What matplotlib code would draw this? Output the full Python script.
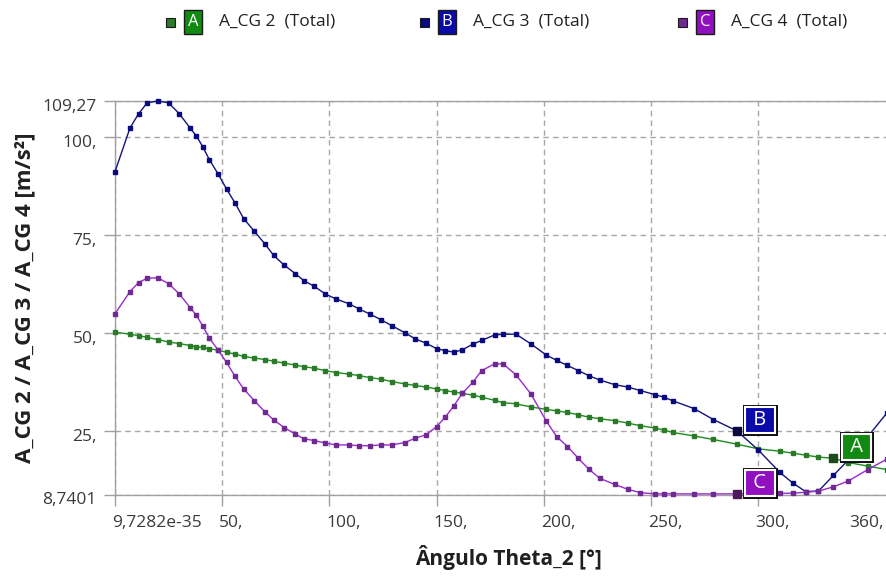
import matplotlib.pyplot as plt
import matplotlib.transforms as mtransforms
from matplotlib.patches import Rectangle

# angle samples (deg) and accelerations (m/s^2)
theta = [0, 7, 11, 15, 20, 25, 30, 35, 38, 41, 44, 48, 52, 56, 60, 65, 70, 74,
         79, 84, 88, 93, 98, 103, 109, 114, 119, 124, 129, 135, 140, 145, 150,
         154, 158, 162, 167, 171, 177, 181, 187, 194, 201, 206, 211, 216, 221,
         226, 233, 239, 245, 252, 256, 260, 270, 279, 290, 300, 310, 316, 322,
         328, 335, 342, 351, 360]
a_cg2 = [50.2, 49.7, 49.3, 48.9, 48.3, 47.7, 47.3, 46.8, 46.5, 46.3, 46.0, 45.6,
         45.1, 44.6, 44.0, 43.6, 43.2, 42.8, 42.3, 41.8, 41.4, 41.0, 40.4, 39.9,
         39.5, 39.1, 38.6, 38.2, 37.6, 37.0, 36.6, 36.2, 35.7, 35.3, 34.9, 34.6,
         34.1, 33.6, 32.8, 32.2, 31.9, 31.1, 30.5, 30.1, 29.7, 29.1, 28.5, 28.1,
         27.6, 27.0, 26.3, 25.7, 25.2, 24.6, 23.7, 22.8, 21.6, 20.4, 19.8, 19.3,
         18.8, 18.3, 18.0, 16.9, 16.0, 15.1]
a_cg3 = [91.2, 102.4, 106.0, 108.8, 109.27, 108.8, 106.0, 102.4, 100.3, 97.5,
         94.3, 90.7, 86.8, 83.2, 79.2, 76.0, 72.7, 69.8, 67.3, 65.2, 63.4, 61.9,
         60.0, 58.7, 57.5, 56.1, 54.8, 53.4, 51.9, 50.1, 48.5, 47.4, 46.0, 45.5,
         45.1, 45.7, 47.2, 48.1, 49.5, 49.7, 49.7, 47.2, 44.4, 43.0, 41.7, 40.4,
         39.1, 38.0, 36.8, 36.2, 35.3, 34.2, 33.6, 32.7, 30.7, 27.9, 25.0, 20.1,
         14.4, 11.7, 9.5, 9.6, 13.6, 17.6, 23.5, 29.6]
a_cg4 = [54.9, 60.6, 62.9, 64.0, 64.1, 62.6, 60.0, 56.5, 54.5, 51.7, 48.7, 45.7,
         42.5, 38.9, 35.7, 32.7, 29.8, 27.8, 25.8, 24.2, 23.0, 22.5, 21.9, 21.4,
         21.4, 21.2, 21.2, 21.4, 21.4, 22.0, 23.1, 24.0, 26.1, 28.5, 31.4, 34.6,
         37.5, 40.4, 42.1, 42.1, 39.3, 34.4, 27.6, 23.5, 21.0, 18.0, 15.2, 12.9,
         11.3, 10.1, 9.2, 8.9, 8.9, 8.9, 8.9, 8.9, 8.9, 9.0, 9.0, 9.1, 9.3, 9.6,
         10.7, 12.2, 15.1, 17.8]

series_names = ['A_CG 2  (Total)', 'A_CG 3  (Total)', 'A_CG 4  (Total)']
series_letters = ['A', 'B', 'C']
label_theta = [335, 290, 290]

xticks = [0, 50, 100, 150, 200, 250, 300, 360]
xtick_labels = ['9,7282e-35', '50,', '100,', '150,', '200,', '250,', '300,', '360,']
yticks = [8.7401, 25, 50, 75, 100, 109.27]
ytick_labels = ['8,7401', '25,', '50,', '75,', '100,', '109,27']

line_colors = ['#1e8c1e', '#14147a', '#9a2ad0']
marker_colors = ['#2a7a2a', '#0a0a80', '#6e2a90']
box_colors = ['#118a11', '#0a0aa8', '#9010c0']
anchor_colors = ['#1c4a1c', '#0a0a40', '#4a1a5a']

plt.rcParams['font.family'] = ['Open Sans', 'DejaVu Sans']

W, H = 887, 576
fig = plt.figure(figsize=(W / 100, H / 100), dpi=100)
ax = fig.add_axes([115 / W, 81.5 / H, 772 / W, 393.5 / H])

all_series = [a_cg2, a_cg3, a_cg4]
for ys, lc, mc in zip(all_series, line_colors, marker_colors):
    ax.plot(theta, ys, color=lc, lw=1.0, marker='s', ms=3.2,
            mfc=mc, mec=mc, zorder=3, clip_on=False)

ax.set_xlim(0, 360)
ax.set_ylim(yticks[0], yticks[-1])

ax.set_xticks(xticks)
ax.set_xticklabels(xtick_labels)
ax.set_yticks(yticks)
ax.set_yticklabels(ytick_labels)

grid_c = '#a8a8a8'
ax.set_axisbelow(True)
ax.grid(True, color=grid_c, linestyle=(0, (4, 3)), lw=1)
for side in ['left', 'bottom', 'top']:
    ax.spines[side].set_color('#a0a0a0')
    ax.spines[side].set_linewidth(1)
ax.spines['right'].set_visible(False)

ax.tick_params(direction='out', length=8, width=1, color='#a0a0a0',
               labelcolor='#3a3a3a', labelsize=12.5)
ax.tick_params(axis='x', pad=7)
ax.tick_params(axis='y', pad=5)

# x tick labels sit to the right of their tick
dx = mtransforms.ScaledTranslation(-3 / 100, 0, fig.dpi_scale_trans)
for lab in ax.get_xticklabels():
    lab.set_horizontalalignment('left')
    lab.set_transform(lab.get_transform() + dx)
ax.get_xticklabels()[-1].set_horizontalalignment('right')

dy = mtransforms.ScaledTranslation(0, -4 / 100, fig.dpi_scale_trans)
for lab in ax.get_yticklabels():
    lab.set_transform(lab.get_transform() + dy)

ax.set_ylabel('A_CG 2 / A_CG 3 / A_CG 4 [m/s²]', fontsize=16,
              fontweight='bold', color='#202020')
ax.yaxis.set_label_coords((25 - 115) / 772, 0.5)
ax.yaxis.label.set_verticalalignment('center')
ax.set_xlabel('Ângulo Theta_2 [°]', fontsize=15, fontweight='bold',
              color='#202020')
ax.xaxis.set_label_coords((508 - 115) / 772, -(557 - 494.5) / 393.5)
ax.xaxis.label.set_verticalalignment('center')

# point labels on the curves
for ys, letter, t, bc, ac in zip(all_series, series_letters, label_theta,
                                 box_colors, anchor_colors):
    i = theta.index(t)
    ax.plot([theta[i]], [ys[i]], marker='s', ms=5.5, color=ac, zorder=5,
            clip_on=False)
    for ec, lw in [('#101010', 3.6), ('white', 1.5)]:
        ax.annotate(' ' + letter + ' ', xy=(theta[i], ys[i]), xytext=(23, 11),
                    textcoords='offset pixels', ha='center', va='center',
                    color='white', fontsize=14.5, zorder=6,
                    bbox=dict(boxstyle='square,pad=0.15', fc=bc, ec=ec, lw=lw))

# legend row at the top
leg_x = [171, 425, 683]
ly = 1 - 22 / H
for s, name, letter, mc, bc in zip(leg_x, series_names, series_letters,
                                   marker_colors, box_colors):
    fig.add_artist(Rectangle(((s - 4.5) / W, ly - 4.5 / H), 9 / W, 9 / H,
                             transform=fig.transFigure, fc=mc, ec='#1a1a1a',
                             lw=0.8))
    fig.text((s + 22) / W, ly, letter, ha='center', va='center',
             color='white', fontsize=12,
             bbox=dict(boxstyle='square,pad=0.22', fc=bc, ec='#1a1a1a', lw=1))
    fig.text((s + 48) / W, ly, name, ha='left', va='center', fontsize=12.5,
             color='#202020')

fig.savefig('out.png', dpi=100)
